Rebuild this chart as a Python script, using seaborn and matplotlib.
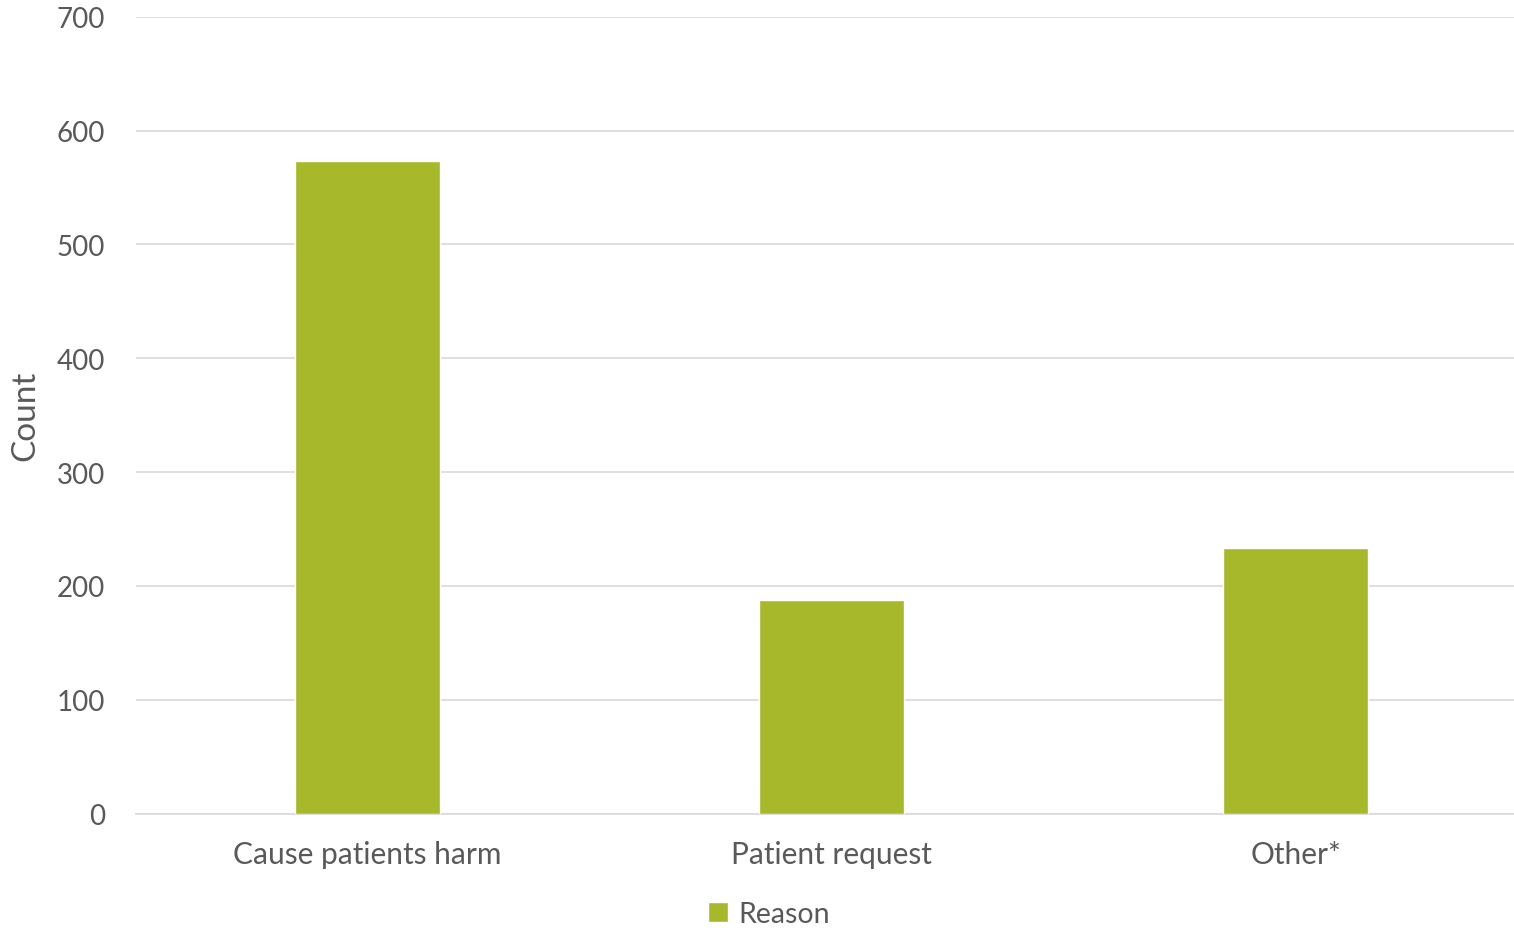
import pandas as pd
import matplotlib
matplotlib.use("Agg")
import matplotlib.pyplot as plt
import seaborn as sns

# data
reasons = ["Cause patients harm", "Patient request", "Other*"]
counts = [573, 188, 233]
series_name = "Reason"

df = pd.DataFrame({"reason": reasons, "count": counts})

sns.set_theme(style="white")
plt.rcParams["font.family"] = ["Lato", "DejaVu Sans"]

fig, ax = plt.subplots(figsize=(15.14, 9.29), dpi=100)
fig.subplots_adjust(left=0.0895, right=1.009, top=0.981, bottom=0.123)

sns.barplot(data=df, x="reason", y="count", color="#a7b82a", saturation=1,
            width=0.3125, label=series_name, ax=ax, zorder=3)

ax.set_ylim(0, 700)
ax.set_yticks(range(0, 701, 100))
ax.yaxis.grid(True, color="#d9d9d9", linewidth=1.2, zorder=0)
ax.set_axisbelow(True)
for s in ["top", "right", "left"]:
    ax.spines[s].set_visible(False)
ax.spines["bottom"].set_color("#d9d9d9")
ax.spines["bottom"].set_linewidth(1.2)

ax.tick_params(axis="x", length=0, labelsize=21.5, colors="#595959", pad=19)
ax.tick_params(axis="y", length=0, labelsize=20, colors="#595959", pad=22)
ax.set_xlabel("")
ax.set_ylabel("Count", fontsize=24, color="#595959", labelpad=12)

# move the legend below the plot, centred on the figure
handles, labels = ax.get_legend_handles_labels()
if ax.get_legend() is not None:
    ax.get_legend().remove()
fig.legend(handles, labels, loc="center", bbox_to_anchor=(0.508, 0.015),
           frameon=False, fontsize=20.5, labelcolor="#595959", handlelength=0.7,
           handleheight=0.7, handletextpad=0.35, borderpad=0.1)

plt.savefig("out.png", dpi=100)
